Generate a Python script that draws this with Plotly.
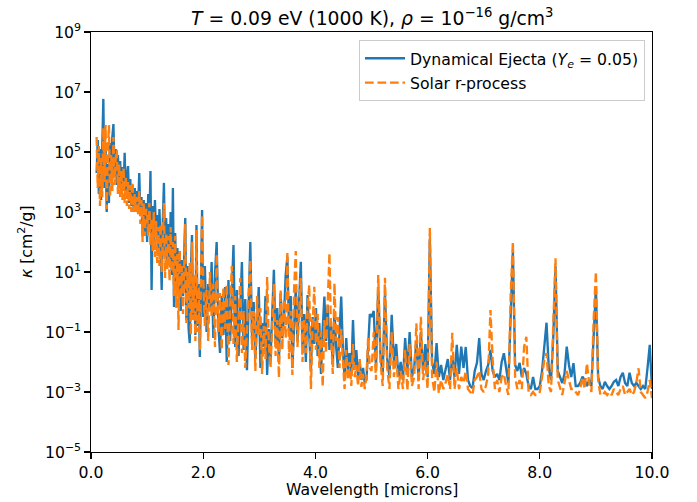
import numpy as np
import plotly.graph_objects as go

# ---- data: wavelength [microns] and log10(kappa [cm^2/g]) ----
wl_a = [0.10, 0.12, 0.14, 0.16, 0.18, 0.20, 0.22, 0.24, 0.26, 0.28,
        0.30, 0.32, 0.34, 0.36, 0.38, 0.40, 0.42, 0.44, 0.46, 0.48,
        0.50, 0.52, 0.54, 0.56, 0.58, 0.60, 0.62, 0.64, 0.66, 0.68,
        0.70, 0.72, 0.74, 0.76, 0.78, 0.80, 0.82, 0.84, 0.86, 0.88,
        0.90, 0.92, 0.94, 0.96, 0.98]
wl_b = [1.00, 1.02, 1.04, 1.06, 1.08, 1.10, 1.12, 1.14, 1.16, 1.18,
        1.20, 1.22, 1.24, 1.26, 1.28, 1.30, 1.32, 1.34, 1.36, 1.38,
        1.40, 1.42, 1.44, 1.46, 1.48, 1.50, 1.52, 1.54, 1.56, 1.58,
        1.60, 1.62, 1.64, 1.66, 1.68, 1.70, 1.72, 1.74, 1.76, 1.78,
        1.80, 1.82, 1.84, 1.86, 1.88, 1.90, 1.92, 1.94, 1.96, 1.98]
wl_c = [2.00, 2.03, 2.06, 2.09, 2.12, 2.15, 2.18, 2.21, 2.24, 2.27,
        2.30, 2.33, 2.36, 2.39, 2.42, 2.45, 2.48, 2.51, 2.54, 2.57,
        2.60, 2.63, 2.66, 2.69, 2.72, 2.75, 2.78, 2.81, 2.84, 2.87,
        2.90, 2.93, 2.96, 2.99, 3.02, 3.05, 3.08, 3.11, 3.14, 3.17,
        3.20, 3.23, 3.26, 3.29, 3.32, 3.35, 3.38, 3.41, 3.44, 3.47,
        3.50, 3.53, 3.56, 3.59, 3.62, 3.65, 3.68, 3.71, 3.74, 3.77,
        3.80, 3.83, 3.86, 3.89, 3.92, 3.95, 3.98, 4.01, 4.04, 4.07,
        4.10, 4.13, 4.16, 4.19, 4.22, 4.25, 4.28, 4.31, 4.34, 4.37,
        4.40, 4.43, 4.46, 4.49, 4.52, 4.55, 4.58, 4.61, 4.64, 4.67,
        4.70, 4.73, 4.76, 4.79, 4.82, 4.85, 4.88, 4.91, 4.94, 4.97]
wl_d = [5.00, 5.04, 5.08, 5.12, 5.16, 5.20, 5.24, 5.28, 5.32, 5.36,
        5.40, 5.44, 5.48, 5.52, 5.56, 5.60, 5.64, 5.68, 5.72, 5.76,
        5.80, 5.84, 5.88, 5.92, 5.96, 6.00, 6.04, 6.08, 6.12, 6.16,
        6.20, 6.24, 6.28, 6.32, 6.36, 6.40, 6.44, 6.48, 6.52, 6.56,
        6.60, 6.64, 6.68, 6.72, 6.76, 6.80, 6.84, 6.88, 6.92, 6.96,
        7.00, 7.04, 7.08, 7.12, 7.16, 7.20, 7.24, 7.28, 7.32, 7.36,
        7.40, 7.44, 7.48, 7.52, 7.56, 7.60, 7.64, 7.68, 7.72, 7.76,
        7.80, 7.84, 7.88, 7.92, 7.96, 8.00, 8.04, 8.08, 8.12, 8.16,
        8.20, 8.24, 8.28, 8.32, 8.36, 8.40, 8.44, 8.48, 8.52, 8.56,
        8.60, 8.64, 8.68, 8.72, 8.76, 8.80, 8.84, 8.88, 8.92, 8.96,
        9.00, 9.04, 9.08, 9.12, 9.16, 9.20, 9.24, 9.28, 9.32, 9.36,
        9.40, 9.44, 9.48, 9.52, 9.56, 9.60, 9.64, 9.68, 9.72, 9.76,
        9.80, 9.84, 9.88, 9.92, 9.96, 10.00]

# Dynamical Ejecta (Ye = 0.05): log10 kappa
dyn_a = [4.3, 5.4, 3.6, 5.1, 3.4, 5.6, 6.77, 3.8, 5.2, 3.0,
         4.6, 3.3, 5.3, 4.0, 5.5, 5.93, 4.2, 5.1, 3.9, 4.9,
         3.8, 4.7, 3.6, 4.5, 3.7, 4.97, 3.5, 4.2, 4.53, 3.3,
         4.1, 3.2, 3.9, 3.1, 3.8, 3.0, 3.7, 3.1, 4.3, 2.9,
         3.5, 2.2, 3.4, 2.3, 3.3]
dyn_b = [2.0, 3.6, 2.6, 4.37, 0.4, 3.2, 1.8, 3.4, 2.2, 2.9,
         1.6, 3.1, 1.9, 0.4, 2.7, 3.97, 1.5, 2.8, 1.2, 2.6,
         1.4, 3.0, 0.9, 3.8, -0.17, 2.3, 0.6, 1.8, 0.3, 1.7,
         -0.3, 1.4, 0.2, 1.9, 2.8, -0.6, 1.2, -0.9, -1.37, 1.0,
         2.23, -0.5, 0.8, -1.1, 2.57, -0.8, 0.6, -1.83, 0.3, 3.07]
dyn_c = [-0.5, 1.2, -1.0, 0.6, -0.3, 1.33, -1.2, 0.9, 2.0, -0.8,
         -1.7, 0.2, -1.1, 0.5, -2.0, 0.73, -1.3, 0.3, 1.9, -1.5,
         0.4, -1.8, -0.2, 1.33, -1.6, 0.1, -2.27, -0.4, 2.0, -1.2,
         0.0, -1.9, -0.6, 0.5, -2.2, -0.7, -1.5, 0.2, -2.43, -0.9,
         -1.9, -0.3, 1.07, -1.4, -0.2, -2.0, 0.3, -1.2, -0.5, 0.9,
         1.51, -1.0, 0.2, -2.2, -0.6, 0.5, -1.3, -0.2, 1.34, -1.5,
         -0.4, -2.0, 0.23, -1.1, -2.3, -0.5, -1.4, -0.2, -1.8, -0.7,
         -2.4, -0.9, 0.18, -1.3, -0.1, -1.6, -0.8, -2.1, -0.3, -1.5,
         -2.2, -1.0, 0.18, -1.6, -2.5, -1.2, -2.3, -1.7, -2.4, -0.6,
         -2.2, -1.6, -2.5, -2.0, -2.6, -2.2, -2.7, -2.6, -1.5, -0.4]
dyn_d = [-0.5, -0.3, -2.2, 0.5, -1.8, -2.4, 0.3, -1.9, -2.5, -0.43,
         -2.0, -1.4, -2.5, -2.0, -2.6, -1.2, -2.3, -1.0, -2.5, -2.2,
         -1.3, -2.6, -1.0, -2.3, -1.4, -2.5, 2.1, -2.0, -2.4, -1.37,
         -2.5, -2.1, -2.6, -2.3, -1.9, -2.6, -1.8, -2.5, -1.43, -2.4,
         -1.49, -2.2, -1.5, -2.6, -2.8, -2.87, -2.3, -2.03, -1.2, -2.4,
         -2.6, -2.3, -2.1, -1.6, -2.3, -2.5, -2.4, -2.6, -2.0, -1.71,
         -2.2, -2.7, -0.5, 1.7, -2.1, -2.3, -2.03, -2.5, -2.2, -2.4,
         -2.8, -2.9, -2.5, -2.9, -2.9, -2.8, -2.3, -1.5, -0.69, -2.2,
         -2.6, -1.2, 1.2, -2.3, -2.5, -2.7, -2.4, -1.49, -2.1, -2.5,
         -2.04, -2.8, -2.8, -2.7, -2.49, -2.6, -2.8, -2.6, -2.8, -1.0,
         0.5, -2.5, -2.8, -2.9, -2.66, -2.8, -2.9, -2.8, -2.66, -2.6,
         -2.8, -2.5, -2.36, -2.7, -2.8, -2.36, -2.7, -2.8, -2.7, -2.8,
         -2.9, -2.8, -2.9, -2.2, -1.43, -2.9]

# Solar r-process: log10 kappa
sol_a = [5.5, 3.8, 5.2, 3.2, 4.8, 3.5, 5.8, 4.0, 5.9, 3.1,
         5.0, 5.9, 3.5, 4.9, 3.7, 5.5, 3.9, 4.8, 5.07, 3.6,
         4.6, 3.5, 4.4, 3.4, 4.5, 3.3, 4.2, 3.2, 4.0, 3.1,
         3.9, 3.0, 4.0, 3.0, 3.6, 3.0, 3.5, 2.9, 3.7, 2.6,
         3.4, 2.0, 3.3, 2.2, 3.1]
sol_b = [3.0, 2.2, 3.3, 1.9, 2.8, 1.7, 3.0, 1.5, 2.7, 1.3,
         2.5, 1.2, 2.6, 1.0, 2.4, 3.3, 0.8, 2.3, 1.1, 2.2,
         0.7, 2.5, 1.0, 2.0, 0.2, 2.2, -0.2, 1.6, -0.93, 1.73,
         0.1, 1.2, -0.4, 1.5, 2.6, -0.7, 1.0, -0.2, 1.3, -1.1,
         2.0, -0.6, 0.9, -1.3, 2.4, -1.0, 0.5, -1.6, 0.2, 2.9]
sol_c = [0.8, -0.8, 0.4, -1.3, 1.0, -0.5, 0.6, -1.5, 1.6, -1.0,
         0.3, -1.6, 0.5, -0.9, 0.6, -2.1, -0.2, 1.2, -1.4, 0.2,
         -2.0, -0.4, 0.8, -1.7, -0.3, -2.2, -0.6, 0.3, 1.4, -1.6,
         -0.3, -2.3, 0.2, -1.1, -0.2, -2.4, -0.8, -1.9, 0.83, -1.4,
         -2.2, -0.5, 0.6, -1.8, -0.6, -2.53, 0.4, -1.6, 0.1, -1.2,
         1.68, -1.9, -0.3, -2.43, 0.4, 1.7, -1.5, -0.4, 0.8, -2.0,
         -0.6, -1.7, -0.2, 0.57, -2.9, -0.8, 0.51, -1.6, -0.4, -2.2,
         -1.0, -2.83, -0.6, -1.7, 0.2, 1.63, -1.2, -2.4, 0.63, -1.3,
         -0.5, -2.2, -0.9, -1.9, -2.9, -1.6, -2.6, -2.0, -2.8, -1.4,
         -2.5, -2.1, -2.8, -1.9, -2.83, -2.4, -2.9, -2.5, -1.2, -2.2]
sol_d = [-2.3, -1.0, -2.6, 0.9, -2.0, -2.8, 0.81, -2.2, -2.9, -1.0,
         -2.5, -1.8, -2.9, -2.3, -2.9, -1.6, -2.95, -1.4, -2.8, -2.5,
         -0.71, -2.9, -0.49, -2.6, -2.0, -2.9, 2.47, -2.5, -3.0, -2.0,
         -3.04, -2.6, -2.9, -2.7, -2.4, -2.9, -1.03, -2.9, -2.2, -2.9,
         -2.5, -2.7, -2.3, -2.9, -3.0, -3.1, -2.6, -2.5, -2.3, -2.9,
         -3.0, -2.8, -2.4, -0.27, -1.93, -2.9, -2.6, -3.0, -2.5, -2.4,
         -2.8, -3.1, 0.2, 2.01, -2.5, -2.9, -2.6, -2.9, -1.5, -1.16,
         -3.0, -3.1, -3.0, -3.1, -3.1, -3.0, -2.5, -1.93, -1.7, -2.8,
         -3.0, -0.5, 1.46, -2.6, -2.9, -3.1, -2.7, -2.3, -2.6, -2.9,
         -2.9, -3.0, -3.1, -2.9, -2.5, -2.9, -2.04, -2.7, -3.0, -0.6,
         1.01, -2.6, -3.1, -3.1, -3.0, -3.1, -3.0, -3.1, -2.9, -3.0,
         -3.1, -2.9, -2.8, -3.1, -3.0, -2.9, -3.1, -3.0, -2.7, -2.21,
         -3.0, -3.1, -3.2, -3.0, -2.6, -3.2]

wavelength = wl_a + wl_b + wl_c + wl_d
dyn_log = dyn_a + dyn_b + dyn_c + dyn_d
sol_log = sol_a + sol_b + sol_c + sol_d
assert len(wavelength) == len(dyn_log) == len(sol_log), (len(wavelength), len(dyn_log), len(sol_log))

kappa_dyn = np.power(10.0, dyn_log)
kappa_sol = np.power(10.0, sol_log)

x_ticks = [0, 2, 4, 6, 8, 10]
y_exps = [9, 7, 5, 3, 1, -1, -3, -5]

FONT = "DejaVu Sans"
FS = 15.7

fig = go.Figure()
fig.add_trace(go.Scatter(
    x=wavelength, y=kappa_dyn, mode="lines",
    name=f"<span style='font-size:{FS}px'>Dynamical Ejecta (<i>Y<sub>e</sub></i> = 0.05)</span>",
    line=dict(color="#1f77b4", width=2.35),
))
fig.add_trace(go.Scatter(
    x=wavelength, y=kappa_sol, mode="lines",
    name=f"<span style='font-size:{FS}px'>Solar r-process</span>",
    line=dict(color="#ff7f0e", width=2.35, dash="8.7px,3.8px"),
))

fig.update_layout(
    width=697, height=502,
    margin=dict(l=91, r=45, t=32, b=50),
    paper_bgcolor="white", plot_bgcolor="white",
    font=dict(family=FONT, size=FS, color="black"),
    showlegend=True,
    legend=dict(
        x=0.9875, y=0.981, xanchor="right", yanchor="top",
        bgcolor="rgba(255,255,255,0.8)", bordercolor="#cccccc", borderwidth=1,
        font=dict(family=FONT, size=16.5, color="black"),
        tracegroupgap=0, itemwidth=40,
    ),
    annotations=[
        dict(
            text="<i>T</i> = 0.09 eV (1000 K), <i>ρ</i> = 10<sup>−16</sup> g/cm<sup>3</sup>",
            xref="paper", yref="paper", x=0.5, y=1.0, xanchor="center", yanchor="bottom",
            yshift=1, showarrow=False, font=dict(family=FONT, size=18.8, color="black"),
        ),
        dict(
            text="Wavelength [microns]",
            xref="paper", yref="paper", x=0.5, y=0.0, xanchor="center", yanchor="middle",
            yshift=-37, showarrow=False, font=dict(family=FONT, size=FS, color="black"),
        ),
        dict(
            text="<i>κ</i> [cm<sup>2</sup>/g]", textangle=-90,
            xref="paper", yref="paper", x=0.0, y=0.5, xanchor="center", yanchor="middle",
            xshift=-66, showarrow=False, font=dict(family=FONT, size=FS, color="black"),
        ),
    ],
)

fig.update_xaxes(
    range=[0, 10], tickvals=x_ticks, ticktext=[f"{v:.1f}" for v in x_ticks],
    showgrid=False, zeroline=False, showline=True, linecolor="black", linewidth=1.25,
    mirror=True, ticks="outside", ticklen=5.5, tickwidth=1.25, tickcolor="black",
    tickfont=dict(family=FONT, size=FS), automargin=False,
)
fig.update_yaxes(
    type="log", range=[-5, 9],
    tickvals=[10.0 ** e for e in y_exps],
    ticktext=[f"10<sup>{str(e).replace('-', '−')}</sup>" for e in y_exps],
    showgrid=False, zeroline=False, showline=True, linecolor="black", linewidth=1.25,
    mirror=True, ticks="outside", ticklen=5.5, tickwidth=1.25, tickcolor="black",
    tickfont=dict(family=FONT, size=FS), automargin=False,
)

# remove the browser's default page margin so the figure sits at the window origin
fig.write_html(
    "out.html",
    config={"displayModeBar": False, "staticPlot": True},
    post_script="document.body.style.margin='0';document.body.style.overflow='hidden';",
)
